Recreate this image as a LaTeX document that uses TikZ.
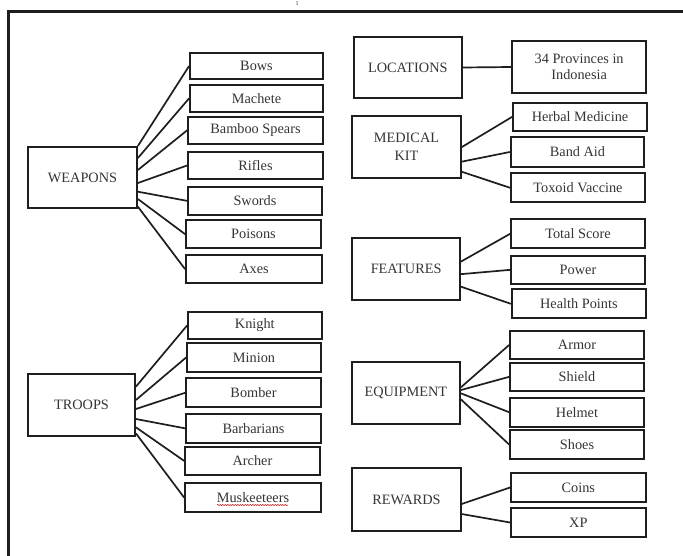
\documentclass[tikz,border=0pt]{standalone}
\usepackage{fontspec}
\setmainfont{Liberation Serif}
\usetikzlibrary{decorations.pathmorphing}
\definecolor{txt}{HTML}{353535}
\definecolor{edge}{HTML}{1E1E1E}
\tikzset{
  box/.style={draw=edge, line width=1.8pt, text=txt, inner sep=0pt, align=center,
    font=\fontsize{14.3}{16}\selectfont},
  link/.style={draw=edge, line width=1.7pt},
}
\newcommand{\bx}[6]{\node[box, minimum width={(#4-#2)*1pt}, minimum height={(#5-#3)*1pt}] (#1) at ({(#2+#4)/2},{(#3+#5)/2}) {#6};}
\begin{document}
\begin{tikzpicture}[x=1pt,y=-1pt]
\useasboundingbox (0,0) rectangle (683,556);
\clip (0,0) rectangle (683,556);
\fill[white] (0,0) rectangle (683,556);
% frame
\draw[edge, line width=2.8pt] (8.5,570) -- (8.5,11.5) -- (700,11.5);
\node[text=txt, font=\fontsize{6}{6}\selectfont, inner sep=0pt, anchor=north] (pg) at (297,1.5) {1};
% left column
\bx{W}{28}{146.7}{137}{208.3}{WEAPONS}
\bx{Bows}{190}{53}{323}{79}{Bows}
\bx{Mach}{190}{85}{323}{111.7}{Machete}
\bx{Bamb}{188}{116.7}{323}{144}{Bamboo Spears}
\bx{Rif}{188}{151.7}{323}{179.3}{Rifles}
\bx{Swo}{188}{186.7}{322}{215}{Swords}
\bx{Poi}{186}{220}{321}{248.3}{Poisons}
\bx{Axe}{186}{255}{322}{283.3}{Axes}
\draw[link] ([yshift=31.5pt]W.east) -- (Bows.west);
\draw[link] ([yshift=19.5pt]W.east) -- (Mach.west);
\draw[link] ([yshift=7.5pt]W.east) -- (Bamb.west);
\draw[link] ([yshift=-5.5pt]W.east) -- (Rif.west);
\draw[link] ([yshift=-14.2pt]W.east) -- (Swo.west);
\draw[link] ([yshift=-21.5pt]W.east) -- (Poi.west);
\draw[link] ([yshift=-29.2pt]W.east) -- (Axe.west);
\bx{T}{28}{374.3}{135}{435.7}{TROOPS}
\bx{Kn}{188}{311.7}{321.7}{339.3}{Knight}
\bx{Min}{187}{343.3}{321}{371.7}{Minion}
\bx{Bom}{186}{378.3}{321}{407.3}{Bomber}
\bx{Bar}{186}{414}{321}{442.7}{Barbarians}
\bx{Arc}{185}{446.7}{320}{475}{Archer}
\bx{Mus}{185}{483.3}{321}{511.7}{Muskeeteers}
\draw[link] ([yshift=18.3pt]T.east) -- (Kn.west);
\draw[link] ([yshift=5pt]T.east) -- (Min.west);
\draw[link] ([yshift=-4pt]T.east) -- (Bom.west);
\draw[link] ([yshift=-14pt]T.east) -- (Bar.west);
\draw[link] ([yshift=-22.3pt]T.east) -- (Arc.west);
\draw[link] ([yshift=-28.3pt]T.east) -- (Mus.west);
\draw[red!75!black, line width=0.5pt, decorate, decoration={snake, amplitude=0.6pt, segment length=2.5pt}]
  ([xshift=-36pt, yshift=-7.5pt]Mus.center) -- ([xshift=35pt, yshift=-7.5pt]Mus.center);
% right column
\bx{L}{354}{36.7}{461.7}{98.3}{LOCATIONS}
\bx{Prov}{512.3}{40.7}{646}{93.3}{34 Provinces in\\Indonesia}
\draw[link] (L.east) -- (Prov.west);
\node[box, minimum width=108.4pt, minimum height=62.3pt, font=\fontsize{14.3}{18}\selectfont] (M) at (406.5,147.2) {MEDICAL\\KIT};
\bx{Herb}{513.3}{102.7}{646.7}{130.7}{Herbal Medicine}
\bx{Band}{510.7}{137.3}{644.3}{166.7}{Band Aid}
\bx{Tox}{511}{173.3}{645}{202.3}{Toxoid Vaccine}
\draw[link] (M.east) -- (Herb.west);
\draw[link] ([yshift=-14.5pt]M.east) -- (Band.west);
\draw[link] ([yshift=-24.5pt]M.east) -- (Tox.west);
\bx{F}{352.3}{238.3}{460}{300}{FEATURES}
\bx{TS}{511}{219.3}{645}{248.3}{Total Score}
\bx{Pow}{511}{255.7}{645}{284}{Power}
\bx{HP}{511.7}{289.3}{646}{318.3}{Health Points}
\draw[link] ([yshift=7.5pt]F.east) -- (TS.west);
\draw[link] ([yshift=-5pt]F.east) -- (Pow.west);
\draw[link] ([yshift=-17.5pt]F.east) -- (HP.west);
\bx{E}{351.7}{361.7}{460}{424}{EQUIPMENT}
\bx{Arm}{510}{331}{644}{359}{Armor}
\bx{Shi}{510}{362.7}{644}{391}{Shield}
\bx{Hel}{510}{397.7}{644}{426.7}{Helmet}
\bx{Sho}{510}{430}{644}{459}{Shoes}
\draw[link] ([yshift=5.5pt]E.east) -- (Arm.west);
\draw[link] ([yshift=2.8pt]E.east) -- (Shi.west);
\draw[link] ([yshift=-0.5pt]E.east) -- (Hel.west);
\draw[link] ([yshift=-6.5pt]E.east) -- (Sho.west);
\bx{R}{352.3}{468.3}{460.7}{530.7}{REWARDS}
\bx{Coi}{511}{473.3}{645.7}{501.7}{Coins}
\bx{XP}{511}{508.3}{645.7}{536.7}{XP}
\draw[link] ([yshift=-4.5pt]R.east) -- (Coi.west);
\draw[link] ([yshift=-14.5pt]R.east) -- (XP.west);
\end{tikzpicture}
\end{document}
